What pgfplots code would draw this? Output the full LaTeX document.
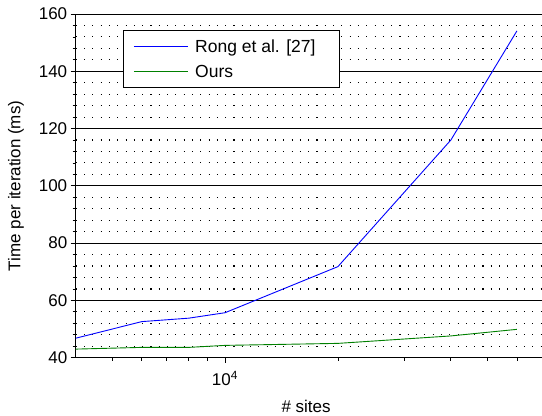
\documentclass[border=0pt]{standalone}
\usepackage{fontspec}
\setmainfont{Liberation Sans}
\usepackage{pgfplots}
\pgfplotsset{compat=1.18}
\begin{document}
\begin{tikzpicture}[font=\fontsize{17bp}{20bp}\selectfont]
\useasboundingbox (0,0) rectangle (542bp,416bp);
\begin{axis}[
  at={(75.7bp,58.3bp)}, anchor=south west,
  scale only axis, width=466.3bp, height=343.7bp,
  xmode=log, xmin=4000, xmax=70000, ymin=40, ymax=160,
  axis x line*=bottom, axis y line*=left,
  axis line style={black, line width=1bp, -},
  ytick={40,60,...,160}, minor y tick num=4,
  xtick={10000}, xticklabels={10\textsuperscript{4}},
  minor xtick={5000,6000,7000,8000,9000,20000,30000,40000,50000,60000,70000},
  ymajorgrids, yminorgrids,
  major grid style={black, line width=0.9bp},
  minor grid style={black, line width=1.1bp, dash pattern=on 1.1bp off 7.2bp},
  tick align=outside, major tick length=5bp, minor tick length=3bp,
  tick style={black, line width=0.8bp},
  /pgf/number format/assume math mode=true,
  ticklabel style={font=\fontsize{17bp}{20bp}\selectfont},
  xticklabel style={yshift=-5bp},
  xlabel={\# sites}, ylabel={Time per iteration (ms)},
  xlabel style={at={(axis description cs:0.494,-0.1405)}, anchor=center},
  ylabel style={at={(axis description cs:-0.128,0.5)}, anchor=center},
  legend style={at={(axis description cs:0.1008,0.953)}, anchor=north west,
    draw=black, line width=1.2bp, inner xsep=10bp, inner ysep=7bp,
    row sep=7bp,
    font=\fontsize{17.5bp}{20bp}\selectfont},
  legend cell align=left,
  legend image code/.code={\draw[#1] (0bp,0bp) -- (54bp,0bp);},
]
\addplot[blue, line width=0.9bp] coordinates {
  (4000,46.8) (6000,52.6) (8000,53.8) (10000,55.7) (20000,71.8) (40000,116.0) (60000,154.1)};
\addlegendentry{\kern5bp Rong et al. [27]\kern12bp\rule{0bp}{0bp}}
\addplot[black!50!green, line width=0.9bp] coordinates {
  (4000,43.0) (6000,43.6) (8000,43.6) (10000,44.3) (20000,45.0) (40000,47.6) (60000,49.9)};
\addlegendentry{\kern5bp Ours}
\end{axis}
\end{tikzpicture}
\end{document}
